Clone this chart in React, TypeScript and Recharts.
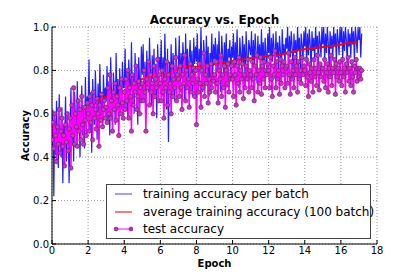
import { LineChart, Line, XAxis, YAxis, CartesianGrid, Legend } from "recharts"

// per-batch training accuracy, one value every 0.05 epoch
const batchStep = 0.05
const batchAcc = [
  0.45, 0.62, 0.22, 0.58, 0.41, 0.66, 0.48, 0.35, 0.69, 0.52, 0.40, 0.63, 0.28, 0.55, 0.47, 0.68, 0.38, 0.60, 0.50, 0.28,
  0.55, 0.72, 0.45, 0.64, 0.38, 0.70, 0.58, 0.47, 0.75, 0.52, 0.66, 0.40, 0.60, 0.73, 0.50, 0.62, 0.44, 0.77, 0.56, 0.68,
  0.60, 0.85, 0.52, 0.70, 0.42, 0.76, 0.63, 0.55, 0.80, 0.66, 0.48, 0.74, 0.58, 0.83, 0.62, 0.70, 0.53, 0.78, 0.65, 0.72,
  0.66, 0.82, 0.56, 0.75, 0.50, 0.86, 0.68, 0.60, 0.79, 0.70, 0.55, 0.88, 0.64, 0.76, 0.58, 0.81, 0.69, 0.62, 0.84, 0.72,
  0.72, 0.90, 0.62, 0.80, 0.58, 0.85, 0.75, 0.66, 0.93, 0.70, 0.78, 0.60, 0.88, 0.74, 0.82, 0.55, 0.86, 0.76, 0.68, 0.91,
  0.78, 0.92, 0.66, 0.84, 0.60, 0.89, 0.75, 0.70, 0.95, 0.80, 0.64, 0.87, 0.76, 0.90, 0.68, 0.83, 0.58, 0.92, 0.79, 0.86,
  0.80, 0.94, 0.68, 0.86, 0.72, 0.97, 0.78, 0.62, 0.90, 0.47, 0.84, 0.74, 0.92, 0.70, 0.88, 0.80, 0.66, 0.95, 0.82, 0.76,
  0.82, 0.96, 0.70, 0.88, 0.76, 0.93, 0.84, 0.66, 0.97, 0.80, 0.90, 0.72, 0.86, 0.94, 0.78, 0.89, 0.68, 0.95, 0.83, 0.91,
  0.84, 0.97, 0.72, 0.90, 0.78, 1.00, 0.82, 0.70, 0.94, 0.86, 0.75, 0.96, 0.80, 0.91, 0.68, 0.88, 0.83, 0.97, 0.77, 0.92,
  0.85, 0.95, 0.74, 0.92, 0.80, 0.98, 0.83, 0.70, 0.96, 0.87, 0.78, 0.93, 0.82, 0.97, 0.72, 0.90, 0.86, 0.94, 0.76, 0.91,
  0.86, 0.97, 0.76, 0.93, 0.82, 0.99, 0.84, 0.72, 0.95, 0.88, 0.79, 0.96, 0.83, 0.92, 0.74, 0.98, 0.87, 0.80, 0.94, 0.90,
  0.87, 0.98, 0.78, 0.94, 0.82, 0.97, 0.89, 0.74, 0.96, 0.85, 0.92, 0.79, 0.99, 0.84, 0.93, 0.76, 0.95, 0.88, 0.81, 0.97,
  0.88, 1.00, 0.78, 0.95, 0.84, 0.97, 0.90, 0.76, 0.98, 0.86, 0.93, 0.80, 0.96, 0.89, 0.75, 0.99, 0.87, 0.92, 0.82, 0.95,
  0.90, 1.00, 0.80, 0.96, 0.86, 0.98, 0.91, 0.78, 0.97, 0.88, 0.94, 0.82, 1.00, 0.89, 0.95, 0.79, 0.97, 0.92, 0.84, 0.98,
  0.91, 1.00, 0.82, 0.97, 0.87, 0.99, 0.92, 0.80, 0.98, 0.89, 0.95, 0.84, 1.00, 0.90, 0.96, 0.81, 0.98, 0.93, 0.86, 1.00,
  0.92, 1.00, 0.84, 0.97, 0.88, 1.00, 0.93, 0.81, 0.98, 0.90, 0.96, 0.85, 1.00, 0.91, 0.97, 0.83, 0.99, 0.94, 0.87, 1.00,
  0.93, 1.00, 0.85, 0.98, 0.89, 1.00, 0.94, 0.82, 0.99, 0.91, 0.97, 0.86, 1.00, 0.92, 0.98, 0.84, 1.00, 0.95, 0.88, 1.00,
  0.94, 1.00, 0.86, 0.97,
]

// running average over 100 batches
const avgEpoch = [1.1, 1.4, 2.1, 2.66, 3.0, 3.4, 3.9, 4.5, 5.25, 6.0, 6.5, 7.1, 8.2, 9.3, 10.4, 11.5, 12.6, 13.7, 14.8, 15.9, 16.4, 16.9]
const avgAcc = [0.57, 0.595, 0.63, 0.665, 0.68, 0.675, 0.70, 0.74, 0.77, 0.78, 0.783, 0.817, 0.817, 0.833, 0.848, 0.863, 0.871, 0.894, 0.905, 0.917, 0.927, 0.927]

// test accuracy, one value every 0.05 epoch
const testStep = 0.05
const testAcc = [
  0.48, 0.56, 0.44, 0.60, 0.50, 0.38, 0.54, 0.46, 0.62, 0.42, 0.52, 0.58, 0.45, 0.50, 0.36, 0.55, 0.47, 0.60, 0.43, 0.53,
  0.58, 0.35, 0.64, 0.50, 0.72, 0.46, 0.60, 0.54, 0.45, 0.66, 0.52, 0.62, 0.48, 0.68, 0.55, 0.46, 0.63, 0.57, 0.50, 0.65,
  0.60, 0.52, 0.68, 0.56, 0.64, 0.48, 0.70, 0.58, 0.62, 0.53, 0.67, 0.60, 0.45, 0.64, 0.57, 0.69, 0.54, 0.62, 0.66, 0.58,
  0.63, 0.56, 0.72, 0.60, 0.78, 0.58, 0.66, 0.52, 0.70, 0.62, 0.74, 0.57, 0.68, 0.64, 0.50, 0.72, 0.60, 0.76, 0.65, 0.58,
  0.70, 0.62, 0.76, 0.66, 0.80, 0.58, 0.72, 0.68, 0.52, 0.78, 0.64, 0.74, 0.70, 0.82, 0.62, 0.68, 0.75, 0.60, 0.72, 0.66,
  0.74, 0.66, 0.80, 0.70, 0.52, 0.76, 0.72, 0.84, 0.64, 0.78, 0.70, 0.74, 0.60, 0.82, 0.68, 0.76, 0.72, 0.85, 0.66, 0.78,
  0.74, 0.66, 0.80, 0.70, 0.58, 0.76, 0.72, 0.84, 0.64, 0.78, 0.70, 0.74, 0.60, 0.82, 0.68, 0.76, 0.72, 0.86, 0.66, 0.78,
  0.76, 0.68, 0.82, 0.72, 0.62, 0.78, 0.74, 0.87, 0.66, 0.80, 0.72, 0.76, 0.63, 0.83, 0.70, 0.78, 0.74, 0.81, 0.68, 0.80,
  0.55, 0.76, 0.70, 0.83, 0.74, 0.63, 0.80, 0.72, 0.88, 0.68, 0.78, 0.74, 0.82, 0.65, 0.76, 0.70, 0.83, 0.72, 0.78, 0.75,
  0.78, 0.70, 0.84, 0.74, 0.65, 0.80, 0.76, 0.87, 0.68, 0.78, 0.72, 0.82, 0.63, 0.80, 0.74, 0.83, 0.70, 0.78, 0.76, 0.82,
  0.76, 0.68, 0.84, 0.78, 0.64, 0.82, 0.74, 0.86, 0.70, 0.80, 0.76, 0.83, 0.67, 0.78, 0.72, 0.82, 0.76, 0.85, 0.70, 0.80,
  0.78, 0.72, 0.84, 0.76, 0.66, 0.82, 0.78, 0.87, 0.70, 0.80, 0.74, 0.86, 0.69, 0.82, 0.76, 0.84, 0.72, 0.80, 0.78, 0.83,
  0.80, 0.72, 0.86, 0.76, 0.68, 0.82, 0.78, 0.89, 0.72, 0.84, 0.76, 0.80, 0.69, 0.85, 0.74, 0.82, 0.78, 0.84, 0.72, 0.81,
  0.82, 0.74, 0.88, 0.78, 0.69, 0.84, 0.76, 0.80, 0.72, 0.86, 0.78, 0.82, 0.70, 0.84, 0.76, 0.80, 0.74, 0.86, 0.78, 0.82,
  0.80, 0.73, 0.85, 0.77, 0.68, 0.83, 0.79, 0.75, 0.81, 0.70, 0.85, 0.77, 0.81, 0.73, 0.87, 0.79, 0.71, 0.83, 0.77, 0.81,
  0.81, 0.75, 0.85, 0.72, 0.79, 0.83, 0.70, 0.81, 0.77, 0.87, 0.73, 0.81, 0.79, 0.85, 0.69, 0.83, 0.77, 0.81, 0.75, 0.84,
  0.79, 0.73, 0.85, 0.77, 0.81, 0.70, 0.83, 0.79, 0.86, 0.75, 0.81, 0.73, 0.84, 0.77, 0.70, 0.82, 0.79, 0.85, 0.75, 0.81,
  0.77, 0.81, 0.76, 0.80,
]

const xTicks = [0, 2, 4, 6, 8, 10, 12, 14, 16, 18]
const yTicks = [0, 0.2, 0.4, 0.6, 0.8, 1.0]
const seriesNames = ["training accuracy per batch", "average training accuracy (100 batch)", "test accuracy"]

const batchData = batchAcc.map((v, i) => ({ x: i * batchStep, y: v }))
const avgData = avgAcc.map((v, i) => ({ x: avgEpoch[i], y: v }))
const testData = testAcc.map((v, i) => ({ x: i * testStep, y: v }))

const font = "'DejaVu Sans', sans-serif"
const tickStyle = { fontSize: 10, fill: "#000", fontFamily: font }

function LegendBox() {
  const rows = [
    { color: "#7f7fff", marker: false },
    { color: "#ff4d4d", marker: false },
    { color: "#ff55ff", marker: true },
  ]
  return (
    <div style={{ width: 263, height: 53, border: "1px solid #444", background: "#fff", fontFamily: font, fontSize: 12, position: "relative" }}>
      {rows.map((r, i) => (
        <div key={i} style={{ position: "absolute", left: 7, top: 1 + i * 17.5, height: 16, display: "flex", alignItems: "center" }}>
          <svg width={19} height={8} style={{ marginRight: 10 }}>
            <line x1={1} y1={4} x2={18} y2={4} stroke={r.color} strokeWidth={1.5} />
            {r.marker && <circle cx={2} cy={4} r={2} fill="#cc22cc" stroke="#660066" strokeWidth={0.5} />}
            {r.marker && <circle cx={17} cy={4} r={2} fill="#cc22cc" stroke="#660066" strokeWidth={0.5} />}
          </svg>
          <span style={{ whiteSpace: "nowrap" }}>{seriesNames[i]}</span>
        </div>
      ))}
    </div>
  )
}

export default function App() {
  return (
    <div style={{ position: "absolute", left: 0, top: 0, width: 419, height: 280, background: "#fff" }}>
      <div style={{ position: "absolute", left: 52, top: 13, width: 325, textAlign: "center", fontFamily: font, fontWeight: "bold", fontSize: 12, lineHeight: "14px", zIndex: 2 }}>
        Accuracy vs. Epoch
      </div>
      <LineChart width={419} height={280} margin={{ top: 27, right: 42, bottom: 0, left: 0 }}>
        <CartesianGrid stroke="#999" strokeDasharray="1 2" />
        <XAxis
          dataKey="x"
          type="number"
          domain={[0, 18]}
          ticks={xTicks}
          height={36}
          allowDataOverflow
          tick={tickStyle}
          tickSize={-4}
          tickMargin={7}
          stroke="#000"
          label={{ value: "Epoch", position: "insideBottom", offset: 13, style: { fontSize: 10, fontWeight: "bold", fill: "#000", fontFamily: font } }}
        />
        <XAxis xAxisId="top" orientation="top" type="number" domain={[0, 18]} ticks={xTicks} height={0} tick={false} tickSize={-4} stroke="#000" />
        <YAxis
          type="number"
          domain={[0, 1]}
          ticks={yTicks}
          width={52}
          allowDataOverflow
          tick={tickStyle}
          tickFormatter={(v: number) => v.toFixed(1)}
          tickSize={-4}
          tickMargin={7}
          stroke="#000"
          label={{ value: "Accuracy", angle: -90, position: "insideLeft", offset: 25, style: { textAnchor: "middle", fontSize: 10, fontWeight: "bold", fill: "#000", fontFamily: font } }}
        />
        <YAxis yAxisId="right" orientation="right" type="number" domain={[0, 1]} ticks={yTicks} width={0} tick={false} tickSize={-4} stroke="#000" />
        <Line data={batchData} dataKey="y" stroke="#0000ff" strokeOpacity={0.88} strokeWidth={1.2} dot={false} isAnimationActive={false} name={seriesNames[0]} />
        <Line data={avgData} dataKey="y" stroke="#ff0000" strokeWidth={2} dot={false} isAnimationActive={false} name={seriesNames[1]} />
        <Line
          data={testData}
          dataKey="y"
          stroke="#ff00ff"
          strokeWidth={1.5}
          dot={{ r: 2.2, fill: "#cc33cc", stroke: "#552255", strokeWidth: 0.6 }}
          isAnimationActive={false}
          name={seriesNames[2]}
        />
        <Legend
          layout="horizontal"
          verticalAlign="middle"
          align="center"
          content={() => <LegendBox />}
          wrapperStyle={{ position: "absolute", left: 106, top: 184, width: 265, height: 55 }}
        />
      </LineChart>
    </div>
  )
}
